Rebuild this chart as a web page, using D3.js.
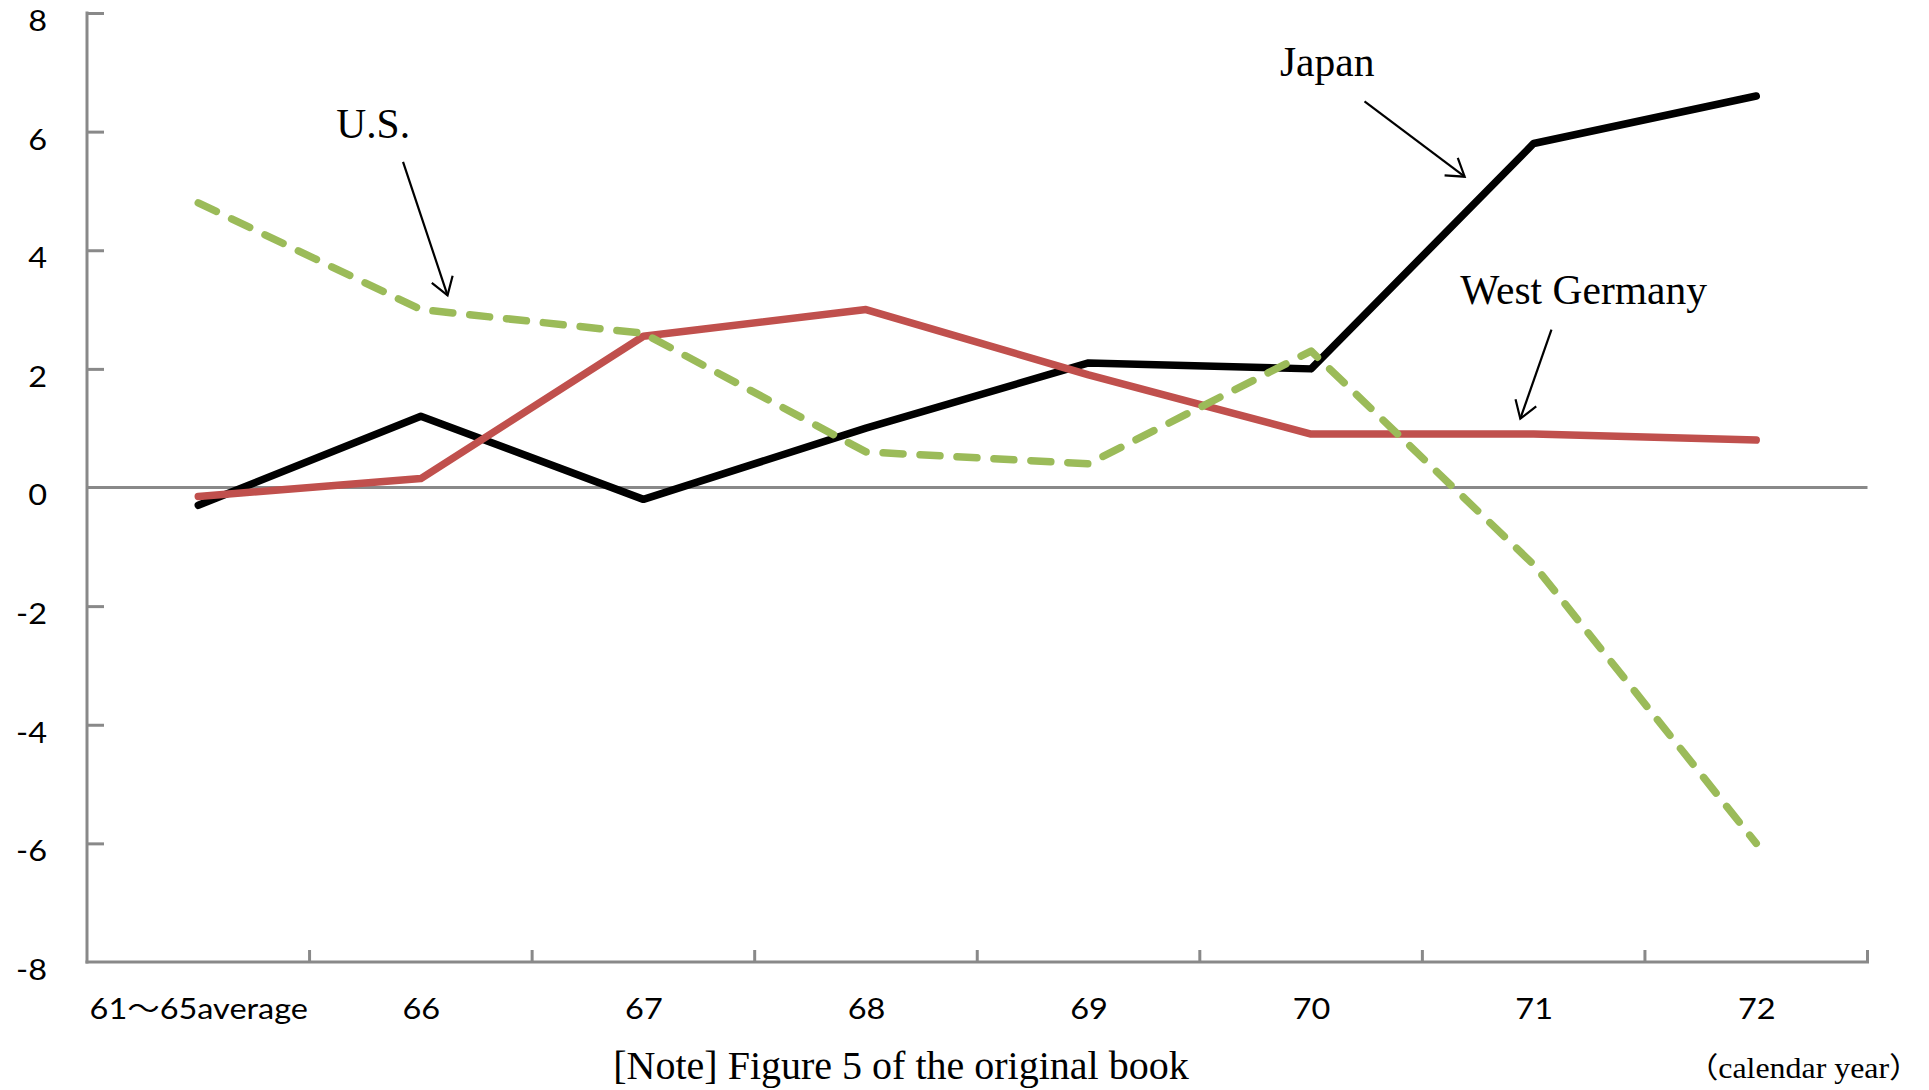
<!DOCTYPE html>
<html>
<head>
<meta charset="utf-8">
<script src="https://cdn.jsdelivr.net/npm/d3@7"></script>
<style>
  html, body { margin: 0; padding: 0; background: #fff; }
  svg { display: block; }
  .tick-label { font-family: Lato, "Noto Sans CJK JP", sans-serif; font-size: 29px; fill: #000; }
  .serif { font-family: "Liberation Serif", "Noto Sans CJK JP", serif; fill: #000; }
</style>
</head>
<body>
<svg id="chart" width="1929" height="1090"></svg>
<script>
// Categories (calendar years) and series values, in percent
const categories = ["61～65average", "66", "67", "68", "69", "70", "71", "72"];
const japan       = [-0.3, 1.2, -0.2, 1.0, 2.1, 2.0, 5.8, 6.6];
const us          = [4.8, 3.0, 2.6, 0.6, 0.4, 2.3, -1.3, -6.0];
const westGermany = [-0.15, 0.15, 2.55, 3.0, 1.9, 0.9, 0.9, 0.8];
const yTicks = [-8, -6, -4, -2, 0, 2, 4, 6, 8];

// Callouts, placed in data units: x as a fractional category index, y as a value
const callouts = [
  { text: "Japan",        label: [4.86, 6.93], from: [5.24, 6.51], to: [5.69, 5.24] },
  { text: "U.S.",         label: [0.62, 5.90], from: [0.92, 5.49], to: [1.12, 3.24] },
  { text: "West Germany", label: [5.67, 3.10], from: [6.08, 2.66], to: [5.94, 1.16] }
];

const svg = d3.select("#chart");
const axisColor = "#898989";

const plot = { left: 87, right: 1867.5, top: 13, bottom: 962 };

// Fractional category index -> pixel; category i is centred at x(i)
const x = d3.scaleLinear().domain([-0.5, categories.length - 0.5]).range([plot.left, plot.right]);
const xCat = d3.scalePoint().domain(categories).range([x(0), x(categories.length - 1)]);
const y = d3.scaleLinear().domain([-8, 8]).range([plot.bottom, plot.top]);

// Plain hyphen for negatives, as in the printed axis
const fmtTick = d => String(d);

// Y axis with inward ticks
const yAxis = d3.axisLeft(y)
  .tickValues(yTicks.filter(v => v !== 0 && v !== -8))
  .tickSizeInner(-17)
  .tickSizeOuter(0)
  .tickFormat(fmtTick);
const gy = svg.append("g").attr("transform", `translate(${plot.left},0)`).call(yAxis);
gy.select(".domain").remove();
gy.selectAll(".tick line").attr("stroke", axisColor).attr("stroke-width", 3);
gy.selectAll(".tick text").remove();

// Y tick labels (all values, including 0 and -8)
svg.append("g").selectAll("text")
  .data(yTicks)
  .join("text")
  .attr("class", "tick-label")
  .attr("text-anchor", "end")
  .attr("transform", d => `translate(${plot.left - 40},${y(d)}) scale(1.12,1)`)
  .attr("dy", "0.62em")
  .text(fmtTick);

// Axis lines
svg.append("line")
  .attr("x1", plot.left).attr("x2", plot.left)
  .attr("y1", y(8)).attr("y2", y(-8))
  .attr("stroke", axisColor).attr("stroke-width", 3).attr("stroke-linecap", "square");
svg.append("line")
  .attr("x1", plot.left).attr("x2", plot.right)
  .attr("y1", y(-8)).attr("y2", y(-8))
  .attr("stroke", axisColor).attr("stroke-width", 3).attr("stroke-linecap", "square");

// Category boundary ticks on the bottom axis
svg.append("g").selectAll("line")
  .data(d3.range(1, categories.length + 1))
  .join("line")
  .attr("x1", i => x(i - 0.5)).attr("x2", i => x(i - 0.5))
  .attr("y1", y(-8)).attr("y2", y(-8) - 12)
  .attr("stroke", axisColor).attr("stroke-width", 3);

// Category labels
const xAxis = d3.axisBottom(xCat).tickSize(0).tickPadding(36);
const gx = svg.append("g").attr("transform", `translate(0,${plot.bottom})`).call(xAxis);
gx.select(".domain").remove();
gx.attr("font-family", null).attr("font-size", null);
gx.selectAll(".tick text")
  .attr("class", "tick-label")
  .attr("fill", "#000")
  .attr("transform", "scale(1.12,1)")
  .attr("x", 0);

// Zero line
svg.append("line")
  .attr("x1", plot.left).attr("x2", plot.right)
  .attr("y1", y(0)).attr("y2", y(0))
  .attr("stroke", axisColor).attr("stroke-width", 3);

// Series lines
const line = d3.line().x((d, i) => x(i)).y(d => y(d));
const series = [
  { values: japan,       color: "#000000", dash: null },
  { values: westGermany, color: "#C0504D", dash: null },
  { values: us,          color: "#9BBB59", dash: "20,17" }
];
svg.append("g").selectAll("path")
  .data(series)
  .join("path")
  .attr("d", d => line(d.values))
  .attr("fill", "none")
  .attr("stroke", d => d.color)
  .attr("stroke-width", 7.5)
  .attr("stroke-linecap", "round")
  .attr("stroke-linejoin", "round")
  .attr("stroke-dasharray", d => d.dash);

// Open arrowhead for callouts (barbs about 20px long)
svg.append("defs").append("marker")
  .attr("id", "arrow")
  .attr("viewBox", "-12 -8 14 16")
  .attr("refX", 0).attr("refY", 0)
  .attr("markerWidth", 24).attr("markerHeight", 27)
  .attr("markerUnits", "userSpaceOnUse")
  .attr("orient", "auto")
  .append("path")
  .attr("d", "M-10,-6.5 L0,0 L-10,6.5")
  .attr("fill", "none")
  .attr("stroke", "#000")
  .attr("stroke-width", 1.3);

const cg = svg.append("g");
cg.selectAll("line")
  .data(callouts)
  .join("line")
  .attr("x1", d => x(d.from[0])).attr("y1", d => y(d.from[1]))
  .attr("x2", d => x(d.to[0])).attr("y2", d => y(d.to[1]))
  .attr("stroke", "#000").attr("stroke-width", 2.2)
  .attr("marker-end", "url(#arrow)");
cg.selectAll("text")
  .data(callouts)
  .join("text")
  .attr("class", "serif")
  .attr("font-size", 41.5)
  .attr("x", d => x(d.label[0])).attr("y", d => y(d.label[1]))
  .text(d => d.text);

// Unit note and source note
svg.append("text")
  .attr("class", "serif")
  .attr("font-size", 29)
  .attr("text-anchor", "end")
  .attr("transform", "translate(1921,1078) scale(1.1,1)")
  .text("（calendar year）");

svg.append("text")
  .attr("class", "serif")
  .attr("font-size", 40)
  .attr("text-anchor", "middle")
  .attr("x", 901).attr("y", 1079)
  .text("[Note]  Figure 5 of the original book");
</script>
</body>
</html>
